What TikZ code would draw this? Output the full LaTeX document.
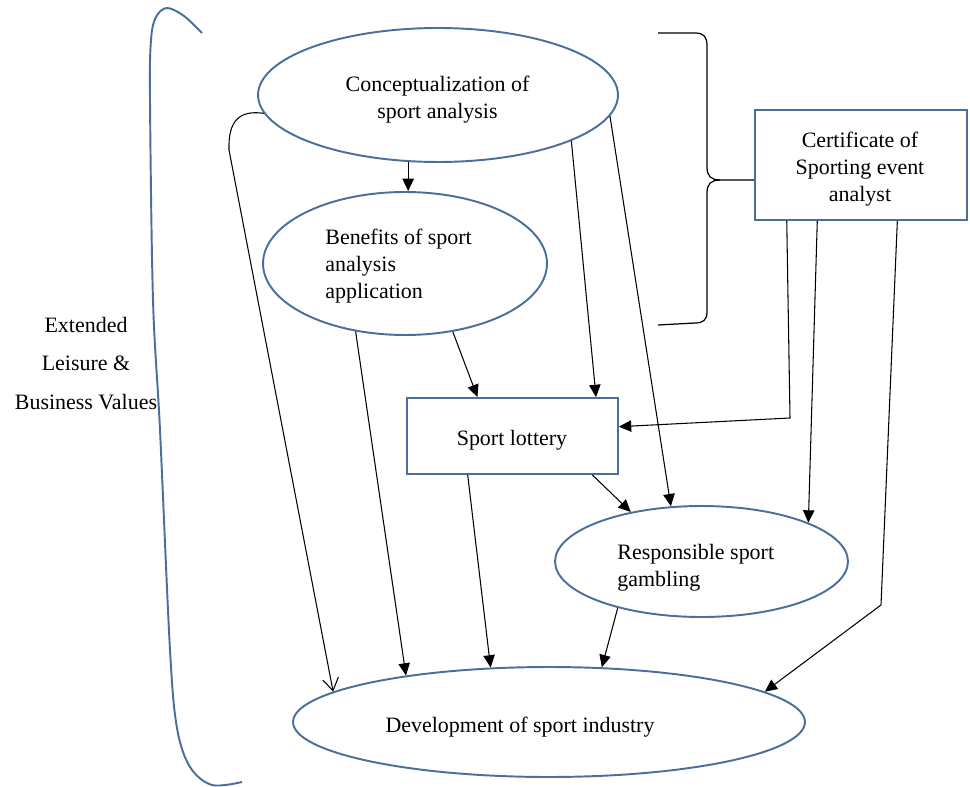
\documentclass[tikz,border=0pt]{standalone}
\usepackage{fontspec}
\setmainfont{Liberation Serif}
\usetikzlibrary{arrows.meta,shapes.geometric}
\definecolor{bord}{RGB}{74,111,154}
\begin{document}
\begin{tikzpicture}[x=0.02cm,y=-0.02cm,
  lbl/.style={font=\fontsize{12.5}{15.3}\selectfont, inner sep=0pt},
  ell/.style={draw=bord, line width=1.1pt, ellipse, inner sep=0pt},
  boxr/.style={draw=bord, line width=1.1pt, rectangle, inner sep=0pt},
  conn/.style={draw=black, line width=0.6pt, -{Triangle[length=7pt,width=6.5pt]}},
  openconn/.style={draw=black, line width=0.6pt, -{Straight Barb[length=7pt,width=9pt]}},
  brk/.style={draw=black, line width=0.7pt}
  ]
\useasboundingbox (0,0) rectangle (970,787);

% shapes
\node[ell, minimum width=7.2cm, minimum height=2.68cm] (concept) at (438,95) {};
\node[ell, minimum width=5.68cm, minimum height=2.86cm] (benefit) at (405,263.5) {};
\node[boxr, minimum width=4.22cm, minimum height=1.52cm] (lottery) at (512.5,436) {};
\node[ell, minimum width=5.86cm, minimum height=2.22cm] (resp) at (701.5,561.5) {};
\node[ell, minimum width=10.24cm, minimum height=2.2cm] (dev) at (549,722) {};
\node[boxr, minimum width=4.24cm, minimum height=2.2cm] (cert) at (861,165) {};

% texts
\node[lbl, align=center] (tconcept) at (437.5,100) {Conceptualization of\\sport analysis};
\node[lbl, align=left, anchor=west] (tbenefit) at (325,266) {Benefits of sport\\analysis\\application};
\node[lbl, anchor=base] (tlottery) at (512,445) {Sport lottery};
\node[lbl, align=left, anchor=west] (tresp) at (617,567.5) {Responsible sport\\gambling};
\node[lbl, anchor=base] (tdev) at (520,732) {Development of sport industry};
\node[lbl, align=center] (tcert) at (860,169) {Certificate of\\Sporting event\\analyst};
\node[lbl, align=center, font=\fontsize{12.5}{22}\selectfont] (tleft) at (86,363.5) {Extended\\Leisure \&\\Business Values};

% left bracket
\draw[bord, line width=1.1pt] plot[smooth, tension=0.55] coordinates {
  (202,33) (184,16) (167,8) (156,17) (151,40) (150,100) (153,300) (160,430)
  (170,650) (177,728) (190,767) (212,785) (242,782)};

% right brace
\coordinate (cusp) at (720,180);
\draw[brk] (658,33) -- (695,33) .. controls (704,33) and (707,37) .. (707,46)
  -- (707,167) .. controls (707,176) and (711,180) .. (cusp) -- (cert.188);
\draw[brk] (cusp) .. controls (711,180) and (707,184) .. (707,193)
  -- (707,312) .. controls (707,320) and (703,323) .. (695,323) -- (658,325);

% connectors
\draw[conn] (concept.246) -- (concept.246 |- benefit.north);
\draw[openconn] (concept.186.5) .. controls (240,110) and (228,120) .. (229,150) -- (dev.172);
\draw[conn] (concept.341.6) -- (lottery.25.5);
\draw[conn] (concept.353.4) -- (resp.119.5);
\draw[conn] (benefit.305) -- (lottery.132.2);
\draw[conn] (benefit.234.1) -- (dev.162.1);
\coordinate (c1) at (790,418);
\draw[conn] (cert.217.8) -- (c1) -- (lottery.5);
\draw[conn] (cert.232) -- (resp.20.8);
\coordinate (c2) at (881,605);
\draw[conn] (cert.303.9) -- (c2) -- (dev.8.4);
\draw[conn] (lottery.334.5) -- (resp.145.4);
\draw[conn] (lottery.221.8) -- (dev.137.8);
\draw[conn] (resp.209.1) -- (dev.46.6);
\end{tikzpicture}
\end{document}
